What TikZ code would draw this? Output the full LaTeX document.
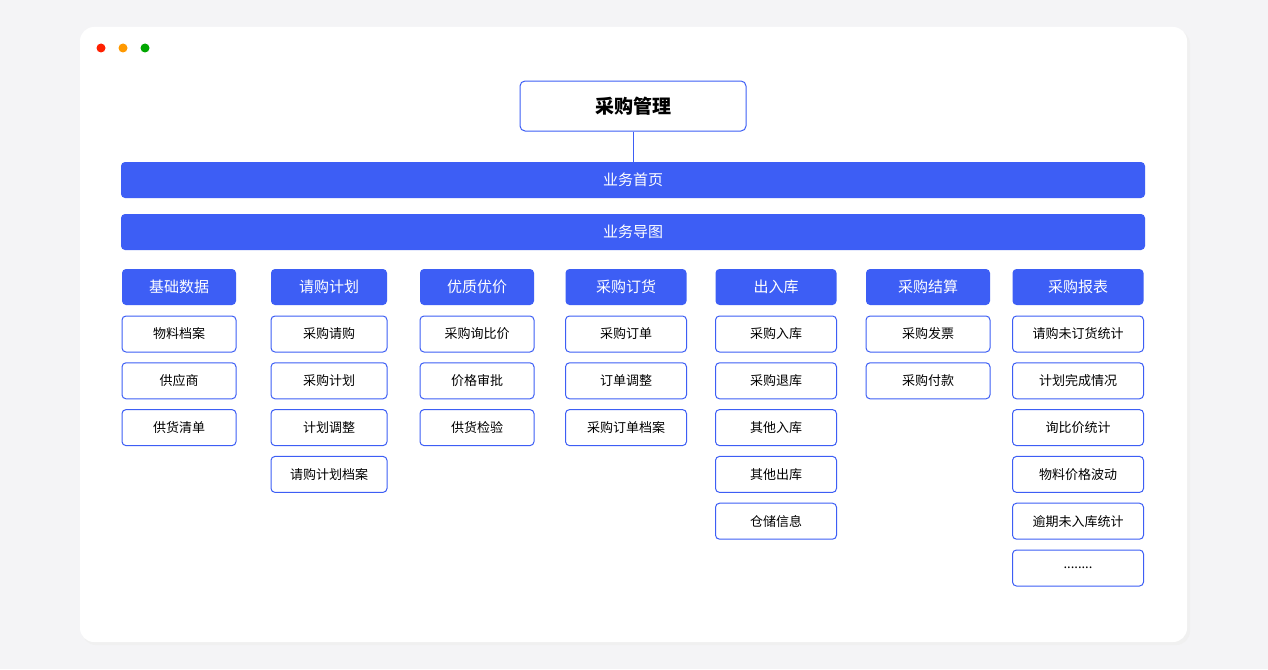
\documentclass[tikz,border=0pt]{standalone}
\usepackage{fontspec}
\setmainfont{Noto Sans CJK SC}
\usetikzlibrary{positioning}
\definecolor{mainblue}{HTML}{3D5EF5}
\definecolor{pagebg}{HTML}{F4F4F6}
\newcommand\moredots{........}
\tikzset{
  bar/.style={draw=none,fill=mainblue,rounded corners=4pt,text=white,minimum height=36pt,font=\fontsize{15}{18}\selectfont},
  head/.style={fill=mainblue,rounded corners=4pt,text=white,minimum height=36pt,font=\fontsize{15}{18}\selectfont},
  item/.style={draw=mainblue,line width=1pt,fill=white,rounded corners=4pt,minimum height=36pt,font=\fontsize{13}{16}\selectfont},
  titlebox/.style={draw=mainblue,line width=1pt,fill=white,rounded corners=5pt,minimum width=226pt,minimum height=50pt,font=\fontsize{19}{22}\selectfont\bfseries}
}
\begin{document}
\begin{tikzpicture}[x=1pt,y=-1pt]
    \useasboundingbox[fill=pagebg] (0,0) rectangle (1268,669);
    % card
    \fill[black!6,rounded corners=14pt] (82,30) rectangle (1190,645);
    \fill[white,rounded corners=14pt] (80,27) rectangle (1187,642);
    \fill[red!75!orange] (101,48) circle (4.5);
    \fill[orange!80!yellow] (123,48) circle (4.5);
    \fill[green!65!black] (145,48) circle (4.5);

    \node[titlebox] (root) at (633,106) {采购管理};
    \node[bar,minimum width=1024pt] (home) at (633,180) {业务首页};
    \node[bar,minimum width=1024pt] (map) at (633,232) {业务导图};
    \draw[mainblue,line width=1pt] (root.south) -- (home.north);

    % columns: name/center x/width/items
    \foreach \i/\cx/\w/\hd/\items in {
        1/179/114/基础数据/{物料档案,供应商,供货清单},
        2/329/116/请购计划/{采购请购,采购计划,计划调整,请购计划档案},
        3/477/114/优质优价/{采购询比价,价格审批,供货检验},
        4/626/121/采购订货/{采购订单,订单调整,采购订单档案},
        5/776/121/出入库/{采购入库,采购退库,其他入库,其他出库,仓储信息},
        6/928/124/采购结算/{采购发票,采购付款},
        7/1078/131/采购报表/{请购未订货统计,计划完成情况,询比价统计,物料价格波动,逾期未入库统计,\moredots}} {
        \node[head,minimum width=\w pt] (h\i) at (\cx,287) {\hd};
        \foreach \t [count=\j] in \items {
            \node[item,minimum width=\w pt] (c\i-\j) at (\cx,{334+(\j-1)*46.8}) {\t};
        }
    }
\end{tikzpicture}
\end{document}
